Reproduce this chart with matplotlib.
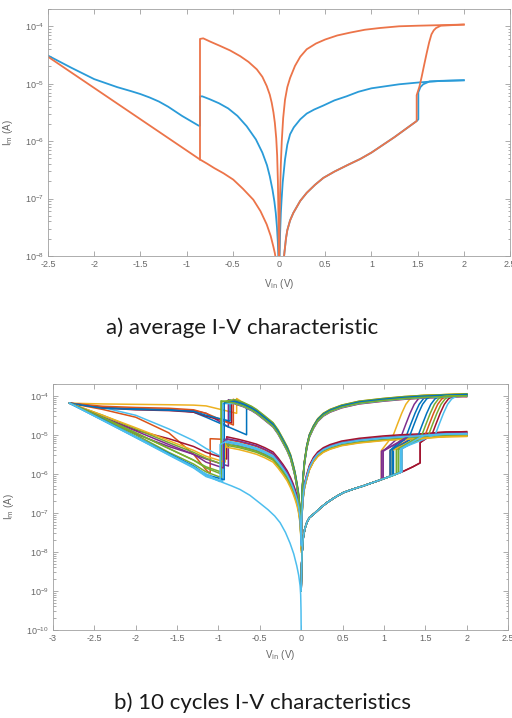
import numpy as np
import matplotlib
matplotlib.use("Agg")
from matplotlib import pyplot as plt
from matplotlib.ticker import LogLocator, NullFormatter

plt.rcParams['font.family'] = ['Liberation Sans', 'DejaVu Sans']
plt.rcParams['axes.unicode_minus'] = False

# ---------- a) average I-V characteristic (V, log10 I) ----------
# orange = high current loop, blue = low current loop
OR_LOW_NEG_V = [-2.5, -0.855, -0.78, -0.7, -0.6, -0.495, -0.39, -0.278, -0.2, -0.133, -0.09, -0.062, -0.045, -0.035]
OR_LOW_NEG_L = [-4.53, -6.32, -6.39, -6.47, -6.56, -6.67, -6.83, -7.02, -7.22, -7.45, -7.65, -7.83, -7.95, -8.05]
OR_UP_NEG_V = [-0.855, -0.855, -0.82, -0.74, -0.64, -0.53, -0.42, -0.33, -0.24, -0.18, -0.133, -0.10, -0.079,
               -0.06, -0.045, -0.03, -0.02, -0.012, -0.006, -0.003]
OR_UP_NEG_L = [-6.32, -4.22, -4.21, -4.27, -4.34, -4.42, -4.52, -4.62, -4.75, -4.88, -5.04, -5.19, -5.33,
               -5.5, -5.68, -5.95, -6.25, -6.7, -7.3, -8.05]
OR_UP_POS_V = [0.003, 0.006, 0.012, 0.02, 0.03, 0.045, 0.065, 0.09, 0.12, 0.173, 0.23, 0.30, 0.40, 0.50,
               0.63, 0.77, 0.93, 1.09, 1.3, 1.5, 1.75, 2.0]
OR_UP_POS_L = [-8.05, -7.5, -6.9, -6.4, -6.0, -5.6, -5.28, -5.06, -4.9, -4.69, -4.53, -4.40, -4.3, -4.23,
               -4.16, -4.11, -4.06, -4.03, -4.0, -3.99, -3.98, -3.97]
LOW_POS_V = [0.052, 0.058, 0.065, 0.075, 0.09, 0.12, 0.155, 0.23, 0.30, 0.39, 0.48, 0.6, 0.75, 0.88, 1.0, 1.25, 1.49]
LOW_POS_L = [-8.05, -7.95, -7.85, -7.7, -7.55, -7.38, -7.25, -7.04, -6.9, -6.76, -6.64, -6.53, -6.41, -6.31,
             -6.2, -5.93, -5.65]
OR_SET_V = [1.49, 1.49, 1.52, 1.544, 1.57, 1.598, 1.625, 1.65, 1.675, 1.70, 1.75, 2.0]
OR_SET_L = [-5.65, -5.2, -5.05, -4.88, -4.68, -4.47, -4.28, -4.14, -4.07, -4.03, -3.99, -3.97]

BL_APP_V = [-2.5, -2.25, -2.0, -1.75, -1.6, -1.5, -1.4, -1.3, -1.2, -1.05, -0.87]
BL_APP_L = [-4.51, -4.72, -4.92, -5.06, -5.13, -5.18, -5.24, -5.31, -5.40, -5.56, -5.73]
BL_UP_NEG_V = [-0.855, -0.855, -0.83, -0.75, -0.65, -0.55, -0.45, -0.35, -0.25, -0.18, -0.13, -0.1, -0.07,
               -0.05, -0.035, -0.022, -0.013, -0.006]
BL_UP_NEG_L = [-5.73, -5.22, -5.22, -5.27, -5.34, -5.43, -5.56, -5.74, -5.97, -6.2, -6.42, -6.61, -6.85,
               -7.05, -7.25, -7.5, -7.75, -8.05]
BL_UP_POS_V = [0.006, 0.012, 0.02, 0.028, 0.04, 0.065, 0.09, 0.12, 0.16, 0.23, 0.3, 0.38, 0.48, 0.6, 0.73,
               0.86, 1.0, 1.3, 1.5, 1.75, 2.0]
BL_UP_POS_L = [-8.05, -7.6, -7.25, -7.02, -6.72, -6.32, -6.06, -5.88, -5.76, -5.62, -5.52, -5.45, -5.38,
               -5.29, -5.22, -5.14, -5.08, -5.01, -4.98, -4.95, -4.94]
BL_SET_V = [1.508, 1.508, 1.53, 1.56, 1.63, 1.8, 2.0]
BL_SET_L = [-5.62, -5.15, -5.06, -5.01, -4.96, -4.95, -4.94]

# ---------- b) 10 cycles I-V characteristics (V, log10 I) ----------
APP_V = [-2.8, -2.4, -2.0, -1.6, -1.3, -1.15]
HI_NEG_V = [-0.80, -0.7, -0.6, -0.54, -0.45, -0.34, -0.28, -0.22, -0.17, -0.13, -0.1, -0.075, -0.05, -0.035,
            -0.022, -0.012, -0.005, 0.0]
HI_NEG_L = [-4.15, -4.22, -4.32, -4.40, -4.55, -4.74, -4.92, -5.15, -5.35, -5.55, -5.78, -6.0, -6.3, -6.5,
            -6.75, -7.0, -7.3, -7.6]
LO_NEG_V = [-0.90, -0.75, -0.64, -0.54, -0.44, -0.34, -0.28, -0.22, -0.17, -0.13, -0.1, -0.075, -0.05, -0.03,
            -0.015, -0.005, 0.0]
LO_NEG_L = [-5.12, -5.18, -5.24, -5.30, -5.39, -5.50, -5.65, -5.82, -5.98, -6.15, -6.3, -6.45, -6.62, -6.82,
            -7.05, -7.4, -7.8]
HI_POS_V = [0.0, 0.004, 0.01, 0.018, 0.027, 0.04, 0.068, 0.1, 0.148, 0.2, 0.268, 0.35, 0.49, 0.7, 0.99, 1.25,
            1.48, 1.75, 2.0]
HI_POS_L = [-7.6, -7.0, -6.6, -6.25, -6.0, -5.7, -5.3, -5.02, -4.8, -4.62, -4.48, -4.38, -4.27, -4.17, -4.1,
            -4.05, -4.02, -4.0, -3.98]
LO_POS_V = [0.0, 0.004, 0.01, 0.018, 0.027, 0.04, 0.068, 0.1, 0.148, 0.2, 0.268, 0.35, 0.49, 0.7, 0.99, 1.2,
            1.3, 1.4, 1.48, 1.6, 1.75, 2.0]
LO_POS_L = [-7.8, -7.35, -7.0, -6.72, -6.5, -6.3, -6.06, -5.83, -5.63, -5.49, -5.38, -5.3, -5.21, -5.14, -5.08,
            -5.05, -5.04, -5.03, -5.02, -5.0, -4.98, -4.97]
BASE_POS_V = [0.0, 0.003, 0.006, 0.012, 0.02, 0.027, 0.045, 0.068, 0.1, 0.168, 0.24, 0.31, 0.41, 0.51, 0.63,
              0.75, 0.87, 0.99, 1.12, 1.24, 1.35, 1.45]
BASE_POS_L = [-9.0, -8.6, -8.3, -8.0, -7.75, -7.6, -7.4, -7.25, -7.12, -7.0, -6.86, -6.74, -6.6, -6.48, -6.39,
              -6.31, -6.22, -6.13, -6.03, -5.93, -5.82, -5.71]
BASE_NEG_V = [-2.8, -0.95, -0.84, -0.74, -0.62, -0.5, -0.4, -0.32, -0.255, -0.19, -0.134, -0.09, -0.053, -0.03,
              -0.013, -0.006, -0.002, 0.0]
BASE_NEG_L = [-4.19, -6.22, -6.31, -6.40, -6.55, -6.75, -6.92, -7.08, -7.25, -7.5, -7.78, -8.05, -8.36, -8.6,
              -8.87, -9.1, -9.5, -10.0]
S_DV = [0.0, 0.05, 0.10, 0.15, 0.20, 0.25, 0.30]
S_L = [-5.0, -4.72, -4.45, -4.22, -4.08, -4.02, -4.0]

BLUE, ORANGE, YELLOW, PURPLE, GREEN, CYAN, RED = ['#0072BD', '#D95319', '#EDB120', '#7E2F8E',
                                                 '#77AC30', '#4DBEEE', '#A2142F']

# high current loops
hi_colors = [YELLOW, PURPLE, BLUE, RED, ORANGE, BLUE, GREEN, CYAN, BLUE, GREEN]
hi_app = [[-4.19, -4.21, -4.22, -4.23, -4.24, -4.26],
          [-4.19, -4.30, -4.34, -4.36, -4.38, -4.45],
          [-4.19, -4.30, -4.33, -4.35, -4.42, -4.55],
          [-4.19, -4.31, -4.36, -4.38, -4.42, -4.52],
          [-4.19, -4.27, -4.30, -4.32, -4.36, -4.45],
          [-4.19, -4.32, -4.35, -4.37, -4.40, -4.50],
          [-4.19, -4.58, -5.00, -5.45, -5.75, -5.95],
          [-4.19, -4.62, -5.06, -5.50, -5.83, -6.05],
          [-4.19, -4.61, -5.05, -5.48, -5.80, -6.02],
          [-4.19, -4.55, -4.95, -5.35, -5.65, -5.85]]
hi_reset_v = [-0.78, -0.88, -0.66, -0.84, -0.82, -0.86, -0.96, -0.95, -0.93, -0.97]
hi_pre = [-4.45, -4.80, -5.0, -4.70, -4.75, -4.65, -6.1, -6.2, -6.15, -6.0]
hi_post = [-4.07, -4.10, -4.30, -4.12, -4.09, -4.11, -4.15, -4.20, -4.18, -4.13]
hi_off = [0.04, -0.03, 0.0, -0.06, 0.02, -0.02, 0.05, -0.05, 0.01, -0.04]
hi_pos_off = [0.03, -0.02, 0.0, -0.04, 0.02, -0.01, 0.03, -0.03, 0.01, -0.02]
hi_set_v = [0.97, 0.99, 1.075, 1.438, 1.216, 1.115, 1.20, 1.216, 1.10, 1.175]
hi_set_pre = [-6.15, -6.13, -6.06, -5.72, -5.95, -6.03, -5.96, -5.95, -6.04, -5.98]
hi_set_top = [-5.40, -5.42, -5.40, -5.20, -5.34, -5.38, -5.34, -5.34, -5.38, -5.36]
hi_cross = [1.115, 1.216, 1.276, 1.58, 1.50, 1.417, 1.54, 1.62, 1.317, 1.46]

# low current loops
lo_colors = [ORANGE, CYAN, RED, PURPLE, GREEN, CYAN, GREEN, YELLOW, PURPLE, CYAN]
lo_app = [[-4.19, -4.35, -4.55, -4.95, -5.50, -5.90],
          [-4.19, -4.30, -4.50, -4.85, -5.15, -5.35],
          [-4.19, -4.55, -4.88, -5.10, -5.30, -5.45],
          [-4.19, -4.60, -4.98, -5.30, -5.50, -5.62],
          [-4.19, -4.50, -4.85, -5.20, -5.45, -5.60],
          [-4.19, -4.63, -5.07, -5.52, -5.85, -6.07],
          [-4.19, -4.58, -4.95, -5.35, -5.65, -5.82],
          [-4.19, -4.50, -4.82, -5.15, -5.40, -5.55],
          [-4.19, -4.55, -4.90, -5.25, -5.50, -5.70],
          [-4.19, -4.62, -5.05, -5.50, -5.82, -6.04]]
lo_reset_v = [-1.10, -0.93, -0.90, -0.88, -0.96, -0.96, -0.97, -0.92, -0.94, -0.98]
lo_pre = [-6.0, -5.60, -5.62, -5.80, -5.75, -6.2, -5.95, -5.70, -5.85, -6.2]
lo_post = [-5.10, -5.15, -5.05, -5.20, -5.25, -5.30, -5.28, -5.22, -5.18, -5.25]
lo_off = [0.0, -0.05, 0.06, -0.1, -0.15, -0.08, -0.12, -0.2, 0.02, -0.04]
lo_pos_off = [0.02, -0.03, 0.05, -0.04, -0.06, -0.02, -0.05, -0.07, 0.01, 0.0]
lo_set_v = [1.075, 1.216, 1.438, 0.97, 1.175, 1.216, 1.15, 1.10, 0.99, 1.20]
lo_set_pre = [-6.06, -5.95, -5.72, -6.15, -5.98, -5.95, -6.0, -6.04, -6.13, -5.96]
lo_set_top = [-5.40, -5.36, -5.20, -5.42, -5.38, -5.36, -5.38, -5.40, -5.42, -5.36]
lo_merge = [1.4, 1.48, 1.6, 1.3, 1.48, 1.48, 1.4, 1.4, 1.3, 1.48]

W, H = 512, 718
fig = plt.figure(figsize=(W / 100, H / 100), dpi=100)
ax1 = fig.add_axes([48 / W, 1 - 256 / H, 462 / W, 247 / H])
ax2 = fig.add_axes([53 / W, 1 - 630 / H, 455 / W, 246 / H])


def seg(ax, v, l, c, lw=1.1):
    ax.plot(v, 10 ** np.asarray(l, dtype=float), color=c, lw=lw, solid_joinstyle='round')


# top plot
c_bl, c_or = '#2a9bd8', '#ec7449'
seg(ax1, BL_APP_V + BL_UP_NEG_V, BL_APP_L + BL_UP_NEG_L, c_bl, 1.3)
seg(ax1, BL_UP_POS_V, BL_UP_POS_L, c_bl, 1.3)
seg(ax1, LOW_POS_V + BL_SET_V, LOW_POS_L + BL_SET_L, c_bl, 1.3)
seg(ax1, OR_LOW_NEG_V, OR_LOW_NEG_L, c_or, 1.3)
seg(ax1, OR_UP_NEG_V, OR_UP_NEG_L, c_or, 1.3)
seg(ax1, OR_UP_POS_V, OR_UP_POS_L, c_or, 1.3)
seg(ax1, LOW_POS_V + OR_SET_V, LOW_POS_L + OR_SET_L, c_or, 1.3)

# bottom plot
for i in range(10):
    for kind in ('hi', 'lo'):
        if kind == 'hi':
            col, app, rv, pre, post = hi_colors[i], hi_app[i], hi_reset_v[i], hi_pre[i], hi_post[i]
            off, poff = hi_off[i], hi_pos_off[i]
            bv, bl, pv, pl = HI_NEG_V, HI_NEG_L, HI_POS_V, HI_POS_L
        else:
            col, app, rv, pre, post = lo_colors[i], lo_app[i], lo_reset_v[i], lo_pre[i], lo_post[i]
            off, poff = lo_off[i], lo_pos_off[i]
            bv, bl, pv, pl = LO_NEG_V, LO_NEG_L, LO_POS_V, LO_POS_L
        v = [x for x in APP_V if x < rv] + [rv, rv]
        l = app[:len(v) - 2] + [pre, post]
        v += [x for x in bv if x > rv]
        l += [y + off for x, y in zip(bv, bl) if x > rv]
        seg(ax2, v, l, col)
        seg(ax2, pv, [y + poff for y in pl], col)
        if kind == 'hi':
            sv = hi_set_v[i]
            v = [x for x in BASE_POS_V if x < sv] + [sv, sv]
            l = [y for x, y in zip(BASE_POS_V, BASE_POS_L) if x < sv] + [hi_set_pre[i], hi_set_top[i]]
            v += [hi_cross[i] + d for d in S_DV]
            l += S_L
            last = v[-1]
            v += [x for x in HI_POS_V if x > last]
            l += [y + poff for x, y in zip(HI_POS_V, HI_POS_L) if x > last]
        else:
            sv = lo_set_v[i]
            v = [x for x in BASE_POS_V if x < sv] + [sv, sv]
            l = [y for x, y in zip(BASE_POS_V, BASE_POS_L) if x < sv] + [lo_set_pre[i], lo_set_top[i]]
            v += [x for x in LO_POS_V if x >= lo_merge[i]]
            l += [y + poff for x, y in zip(LO_POS_V, LO_POS_L) if x >= lo_merge[i]]
        seg(ax2, v, l, col)
seg(ax2, BASE_NEG_V, BASE_NEG_L, CYAN)


def style(ax, xlim, ylim, xticks):
    ax.set_yscale('log')
    ax.set_xlim(*xlim)
    ax.set_ylim(*ylim)
    ax.set_xticks(xticks)
    ax.set_xticklabels(['%g' % t for t in xticks])
    ax.yaxis.set_major_locator(LogLocator(base=10, numticks=20))
    ax.yaxis.set_minor_locator(LogLocator(base=10, subs=np.arange(2, 10), numticks=20))
    ax.yaxis.set_minor_formatter(NullFormatter())
    ax.tick_params(which='both', direction='in', top=True, right=True, colors='#8a8a8a',
                   labelcolor='#666666', labelsize=6.5, width=0.5)
    ax.tick_params(which='major', length=3.5, pad=3)
    ax.tick_params(which='minor', length=1.8)
    for s in ax.spines.values():
        s.set_color('#a0a0a0')
        s.set_linewidth(0.6)


style(ax1, (-2.5, 2.5), (1e-8, 2e-4), [-2.5, -2, -1.5, -1, -0.5, 0, 0.5, 1, 1.5, 2, 2.5])
style(ax2, (-3, 2.5), (1e-10, 2e-4), [-3, -2.5, -2, -1.5, -1, -0.5, 0, 0.5, 1, 1.5, 2, 2.5])

for ax, xl, yl in [(ax1, -0.085, -0.071), (ax2, -0.073, -0.081)]:
    ax.set_xlabel(r'V$_{\mathrm{in}}$ (V)', fontsize=7, color='#666666')
    ax.set_ylabel(r'I$_{\mathrm{m}}$ (A)', fontsize=7, color='#666666')
    ax.xaxis.set_label_coords(0.5, xl)
    ax.yaxis.set_label_coords(yl, 0.5)

fig.text(242 / W, 1 - 328 / H, 'a) average I-V characteristic', ha='center', va='center',
         fontsize=16, family=['Lato', 'DejaVu Sans'], color='#1a1a1a')
fig.text(262 / W, 1 - 703 / H, 'b) 10 cycles I-V characteristics', ha='center', va='center',
         fontsize=16, family=['Lato', 'DejaVu Sans'], color='#1a1a1a')

fig.savefig('out.png', dpi=100)
